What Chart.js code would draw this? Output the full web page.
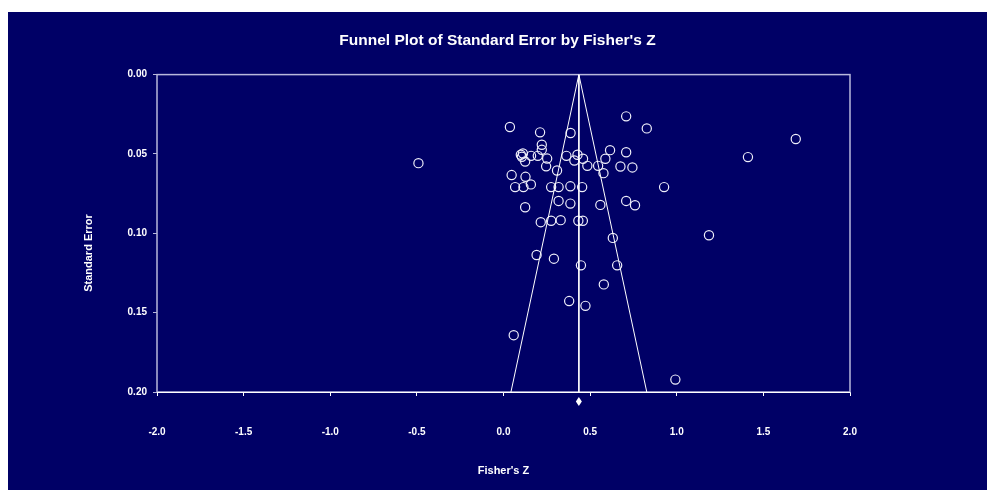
<!DOCTYPE html>
<html>
<head>
<meta charset="utf-8">
<title>Funnel Plot of Standard Error by Fisher's Z</title>
<script src="https://cdn.jsdelivr.net/npm/chart.js@4.4.1/dist/chart.umd.min.js"></script>
<style>
html,body{margin:0;padding:0;background:#fff;overflow:hidden}
#wrap{position:absolute;left:8px;top:12px;width:979px;height:478px;background:#000066}
</style>
</head>
<body>
<div id="wrap"><canvas id="funnelChart" width="979" height="478"></canvas></div>
<script>
// study effects (Fisher's Z) and their standard errors
const fisherZ = [0.708,0.827,0.037,0.211,0.387,0.221,0.221,0.100,0.112,0.106,
                 0.125,0.159,0.198,0.252,0.363,0.427,0.409,0.459,0.484,0.546,
                 0.588,0.615,0.708,0.675,0.744,0.577,0.246,0.309,-0.491,0.047,
                 0.127,0.067,0.115,0.158,0.275,0.318,0.386,0.454,0.927,0.318,
                 0.386,0.125,0.559,0.708,0.759,0.215,0.275,0.330,0.432,0.458,
                 0.631,0.191,0.291,0.447,0.656,0.579,0.379,0.473,0.059,0.992,
                 1.687,1.411,1.186];
const stdError = [0.0263,0.0339,0.0330,0.0364,0.0368,0.0442,0.0474,0.0505,0.0497,0.0518,
                  0.0548,0.0512,0.0512,0.0529,0.0512,0.0505,0.0541,0.0530,0.0575,0.0575,
                  0.0530,0.0476,0.0489,0.0579,0.0585,0.0621,0.0578,0.0604,0.0558,0.0633,
                  0.0644,0.0709,0.0709,0.0692,0.0709,0.0709,0.0704,0.0709,0.0709,0.0796,
                  0.0813,0.0836,0.0821,0.0796,0.0823,0.0930,0.0921,0.0917,0.0921,0.0921,
                  0.1029,0.1137,0.1160,0.1202,0.1202,0.1322,0.1427,0.1457,0.1642,0.1922,
                  0.0406,0.0520,0.1012];

// pooled estimate and funnel limits
const pooledZ = 0.435;
const zCrit = 1.96;
const seMax = 0.20;
const diamondSE = 0.206;

const xTicks = [-2.0,-1.5,-1.0,-0.5,0.0,0.5,1.0,1.5,2.0];
const yTicks = [0.00,0.05,0.10,0.15,0.20];

const FONT = '"Liberation Sans", Arial, sans-serif';

const studies = fisherZ.map((z, i) => ({x: z, y: stdError[i]}));
const funnel = [
    {x: pooledZ - zCrit*seMax, y: seMax},
    {x: pooledZ, y: 0},
    {x: pooledZ + zCrit*seMax, y: seMax}
];
const centre = [{x: pooledZ, y: 0}, {x: pooledZ, y: seMax}];

const frameAndTitles = {
    id: 'frameAndTitles',
    beforeDatasetsDraw(chart) {
        const {ctx, chartArea: a} = chart;
        ctx.save();
        ctx.strokeStyle = '#b8b8dc';
        ctx.lineWidth = 1.5;
        ctx.strokeRect(a.left, a.top, a.right - a.left, a.bottom - a.top);
        ctx.strokeStyle = '#fff';
        ctx.lineWidth = 1;
        ctx.beginPath();
        ctx.moveTo(a.left, a.bottom + 0.5); ctx.lineTo(a.right, a.bottom + 0.5);
        ctx.stroke();
        ctx.restore();
    },
    afterDraw(chart) {
        const {ctx, chartArea: a, scales} = chart;
        ctx.save();
        // combined-effect diamond below the axis (outside the chart area)
        const dx = scales.x.getPixelForValue(pooledZ);
        const dy = scales.y.getPixelForValue(diamondSE);
        ctx.fillStyle = '#fff';
        ctx.beginPath();
        ctx.moveTo(dx, dy - 4.5); ctx.lineTo(dx + 3, dy);
        ctx.lineTo(dx, dy + 4.5); ctx.lineTo(dx - 3, dy);
        ctx.closePath(); ctx.fill();

        ctx.font = 'bold 11px ' + FONT;
        ctx.textAlign = 'center';
        ctx.textBaseline = 'middle';
        ctx.fillText("Fisher's Z", (a.left + a.right)/2, a.bottom + 79);
        ctx.translate(81, 241);
        ctx.rotate(-Math.PI/2);
        ctx.fillText('Standard Error', 0, 0);
        ctx.restore();
    }
};

new Chart(document.getElementById('funnelChart'), {
    type: 'scatter',
    data: {
        datasets: [
            {
                label: 'Funnel',
                data: funnel,
                showLine: true,
                borderColor: '#fff',
                borderWidth: 1,
                pointRadius: 0,
                fill: false
            },
            {
                label: 'Pooled',
                data: centre,
                showLine: true,
                borderColor: '#fff',
                borderWidth: 1,
                pointRadius: 0,
                fill: false
            },
            {
                label: 'Studies',
                data: studies,
                pointStyle: 'circle',
                pointRadius: 4.6,
                pointBorderWidth: 1.2,
                pointBorderColor: '#eeeefa',
                pointBackgroundColor: 'rgba(0,0,0,0)'
            }
        ]
    },
    options: {
        responsive: false,
        animation: false,
        devicePixelRatio: 1,
        layout: {padding: 0},
        plugins: {
            legend: {display: false},
            tooltip: {enabled: false},
            title: {
                display: true,
                text: "Funnel Plot of Standard Error by Fisher's Z",
                color: '#fff',
                font: {family: FONT, size: 15.5, weight: 'bold'},
                padding: {top: 19, bottom: 25}
            }
        },
        scales: {
            x: {
                type: 'linear',
                min: xTicks[0],
                max: xTicks[xTicks.length - 1],
                afterBuildTicks(s) { s.ticks = xTicks.map(v => ({value: v})); },
                afterFit(s) { s.height = 98; },
                ticks: {
                    callback: v => v.toFixed(1),
                    color: '#fff',
                    font: {family: FONT, size: 10, weight: 'bold'},
                    padding: 30,
                    maxRotation: 0,
                    autoSkip: false
                },
                grid: {drawOnChartArea: false, drawTicks: true, tickLength: 4, color: '#fff'},
                border: {display: false}
            },
            y: {
                type: 'linear',
                reverse: true,
                min: yTicks[0],
                max: yTicks[yTicks.length - 1],
                afterBuildTicks(s) { s.ticks = yTicks.map(v => ({value: v})); },
                afterFit(s) { s.width = 149; },
                ticks: {
                    callback: v => v.toFixed(2),
                    color: '#fff',
                    font: {family: FONT, size: 10, weight: 'bold'},
                    padding: 6,
                    autoSkip: false
                },
                grid: {drawOnChartArea: false, drawTicks: true, tickLength: 4, color: '#b8b8dc'},
                border: {display: false}
            },
            // empty right-hand axis that only reserves the space right of the plot
            yRight: {
                type: 'linear',
                position: 'right',
                display: true,
                afterFit(s) { s.width = 137; },
                ticks: {display: false},
                grid: {display: false},
                border: {display: false}
            }
        }
    },
    plugins: [frameAndTitles]
});
</script>
</body>
</html>
